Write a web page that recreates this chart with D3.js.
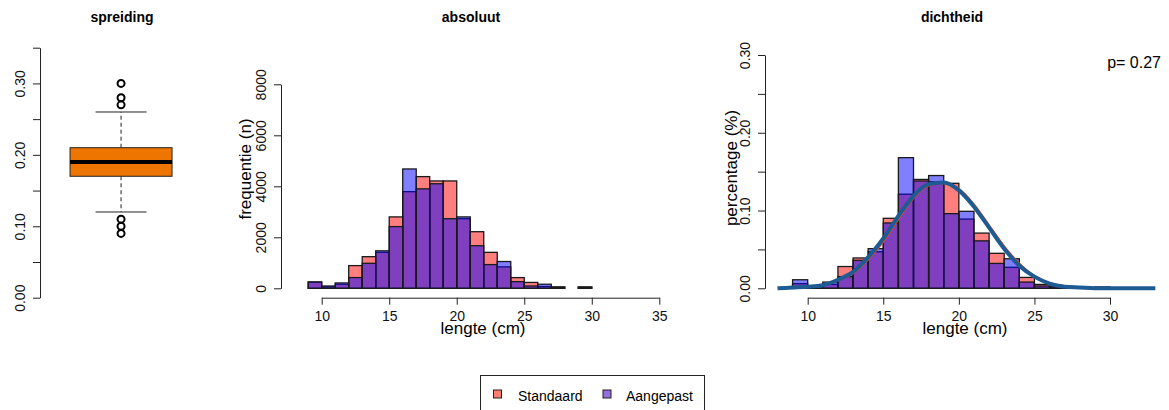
<!DOCTYPE html>
<html>
<head>
<meta charset="utf-8">
<script src="https://cdn.jsdelivr.net/npm/d3@7"></script>
<style>
  body { margin: 0; background: white; }
  svg { font-family: "Liberation Sans", Arial, sans-serif; }
</style>
</head>
<body>
<div id="chart"></div>
<script>
// ---- data ----
// boxplot (spreiding)
const boxStats = [0.12, 0.17, 0.19, 0.21, 0.26]; // lower whisker, q1, median, q3, upper whisker
const boxOutliers = [0.30, 0.28, 0.27, 0.11, 0.10, 0.09];
const boxTicks = [0, 0.05, 0.10, 0.15, 0.20, 0.25, 0.30, 0.35];
const boxTickLabels = ["0.00", "0.10", "0.20", "0.30"];

// histogram bins (left edges, width 1 cm)
const binStarts = [9, 10, 11, 12, 13, 14, 15, 16, 17, 18, 19, 20, 21, 22, 23, 24, 25, 26, 27, 28, 29];

// absoluut
const standaardN = [240, 60, 160, 890, 1240, 1410, 2800, 3790, 4380, 4210, 4210, 2730, 2220, 1410, 840, 420, 230, 70, 50, 0, 50];
const aangepastN = [250, 90, 210, 420, 980, 1470, 2420, 4680, 3900, 4100, 2730, 2800, 1670, 930, 1050, 260, 90, 160, 50, 0, 50];
const absXTicks = [10, 15, 20, 25, 30, 35];
const absYTicks = [0, 2000, 4000, 6000, 8000];

// dichtheid
const standaardD = [0.006, 0.002, 0.005, 0.028, 0.039, 0.047, 0.090, 0.121, 0.140, 0.137, 0.135, 0.089, 0.071, 0.045, 0.027, 0.014, 0.005, 0.002, 0.001, 0, 0.0015];
const aangepastD = [0.011, 0.003, 0.008, 0.015, 0.036, 0.051, 0.084, 0.168, 0.138, 0.145, 0.096, 0.099, 0.061, 0.032, 0.038, 0.008, 0.003, 0.002, 0.001, 0, 0.0015];
const denXTicks = [10, 15, 20, 25, 30];
const denYTicks = [0, 0.05, 0.10, 0.15, 0.20, 0.25, 0.30];
const denYLabels = ["0.00", "0.10", "0.20", "0.30"];

// density curves
const curveStdX = [9, 10, 11, 12, 13, 14, 15, 16, 17, 18, 19, 20, 21, 22, 23, 24, 25, 26, 27, 28, 28.7];
const curveStdY = [0.001, 0.002, 0.004, 0.010, 0.019, 0.037, 0.060, 0.089, 0.116, 0.132, 0.135, 0.128, 0.108, 0.081, 0.054, 0.032, 0.016, 0.007, 0.003, 0.001, 0];
const curveAanX = [8, 9, 10, 11, 12, 13, 14, 15, 16, 17, 18, 19, 20, 21, 22, 23, 24, 25, 26, 27, 28, 29, 30, 31, 32, 33];
const curveAanY = [0, 0.001, 0.002, 0.004, 0.011, 0.021, 0.040, 0.064, 0.093, 0.119, 0.134, 0.136, 0.126, 0.105, 0.078, 0.051, 0.029, 0.015, 0.006, 0.002, 0.001, 0, 0, 0, 0, 0];

const pText = "p= 0.27";
const legendNames = ["Standaard", "Aangepast"];

// ---- styles ----
const redFill = "rgba(255,0,0,0.5)";
const blueFill = "rgba(0,0,255,0.5)";
const legendColors = ["#FA8072", "#9370DB"];
const tickFont = "14px";
const labelFont = "17px";

const svg = d3.select("#chart")
  .append("svg")
  .attr("width", 1169)
  .attr("height", 410)
  .style("background-color", "white");

// helper: R-style left axis with rotated labels
function leftAxis(y, x0, ticks, labels) {
  const g = svg.append("g")
    .attr("transform", `translate(${x0},0)`)
    .call(d3.axisLeft(y).tickValues(ticks).tickSize(7).tickSizeOuter(0)
      .tickFormat(d => {
        const s = labels.find(l => Math.abs(+l - d) < 1e-9);
        return s === undefined ? "" : s;
      }));
  g.selectAll("path,line").attr("stroke", "#222");
  g.selectAll("text")
    .attr("x", 0).attr("dy", 0)
    .attr("transform", "translate(-15,0) rotate(-90)")
    .attr("text-anchor", "middle")
    .style("font-size", tickFont)
    .attr("fill", "#111");
  return g;
}

function bottomAxis(x, y0, ticks) {
  const g = svg.append("g")
    .attr("transform", `translate(0,${y0})`)
    .call(d3.axisBottom(x).tickValues(ticks).tickSize(7).tickSizeOuter(0).tickFormat(d3.format("d")));
  g.selectAll("path,line").attr("stroke", "#222");
  g.selectAll("text")
    .attr("y", 23).attr("dy", 0)
    .style("font-size", tickFont)
    .attr("fill", "#111");
  return g;
}

function title(txt, cx) {
  svg.append("text")
    .attr("x", cx).attr("y", 22)
    .attr("text-anchor", "middle")
    .attr("font-weight", "bold")
    .style("font-size", "14px")
    .text(txt);
}

// ---- panel 1: spreiding ----
const yBox = d3.scaleLinear().domain([0, 0.35]).range([297.7, 47.7]);
const xBox = d3.scaleLinear().domain([0.5, 1.5]).range([57.3, 184.8]);

leftAxis(yBox, 40, boxTicks, boxTickLabels);
title("spreiding", 122);

// whiskers (dashed)
svg.append("line")
  .attr("x1", xBox(1)).attr("x2", xBox(1))
  .attr("y1", yBox(boxStats[3])).attr("y2", yBox(boxStats[4]))
  .attr("stroke", "#222").attr("stroke-dasharray", "4,3");
svg.append("line")
  .attr("x1", xBox(1)).attr("x2", xBox(1))
  .attr("y1", yBox(boxStats[1])).attr("y2", yBox(boxStats[0]))
  .attr("stroke", "#222").attr("stroke-dasharray", "4,3");
// caps
[boxStats[0], boxStats[4]].forEach(v => {
  svg.append("line")
    .attr("x1", xBox(0.8)).attr("x2", xBox(1.2))
    .attr("y1", yBox(v)).attr("y2", yBox(v))
    .attr("stroke", "#222");
});
// box
svg.append("rect")
  .attr("x", xBox(0.6))
  .attr("y", yBox(boxStats[3]))
  .attr("width", xBox(1.4) - xBox(0.6))
  .attr("height", yBox(boxStats[1]) - yBox(boxStats[3]))
  .attr("fill", "#EE7600")
  .attr("stroke", "#222");
// median
svg.append("line")
  .attr("x1", xBox(0.6)).attr("x2", xBox(1.4))
  .attr("y1", yBox(boxStats[2])).attr("y2", yBox(boxStats[2]))
  .attr("stroke", "black").attr("stroke-width", 4);
// outliers
svg.selectAll(".outlier")
  .data(boxOutliers)
  .enter().append("circle")
  .attr("cx", xBox(1))
  .attr("cy", d => yBox(d))
  .attr("r", 3.5)
  .attr("fill", "none")
  .attr("stroke", "black")
  .attr("stroke-width", 2);

// ---- panel 2: absoluut ----
const xAbs = d3.scaleLinear().domain([10, 35]).range([321.7, 659.3]);
const yAbs = d3.scaleLinear().domain([0, 8000]).range([288.3, 84.3]);

leftAxis(yAbs, 281, absYTicks, absYTicks.map(String));
bottomAxis(xAbs, 297.7, absXTicks);
title("absoluut", 471);

function bars(x, y, vals, fill) {
  svg.append("g")
    .selectAll("rect")
    .data(binStarts)
    .enter().append("rect")
    .attr("x", d => x(d))
    .attr("width", d => x(d + 1) - x(d))
    .attr("y", (d, i) => y(vals[i]))
    .attr("height", (d, i) => y(0) - y(vals[i]))
    .attr("fill", fill)
    .attr("stroke", "#1a1a1a")
    .attr("stroke-width", 1.3);
}

bars(xAbs, yAbs, standaardN, redFill);
bars(xAbs, yAbs, aangepastN, blueFill);

svg.append("text")
  .attr("transform", "translate(251,169) rotate(-90)")
  .attr("text-anchor", "middle")
  .style("font-size", labelFont)
  .text("frequentie (n)");
svg.append("text")
  .attr("x", 483).attr("y", 334)
  .attr("text-anchor", "middle")
  .style("font-size", labelFont)
  .text("lengte (cm)");

// ---- panel 3: dichtheid ----
const xDen = d3.scaleLinear().domain([10, 30]).range([807.7, 1110]);
const yDen = d3.scaleLinear().domain([0, 0.30]).range([288.3, 55]);

leftAxis(yDen, 765, denYTicks, denYLabels);
bottomAxis(xDen, 297.7, denXTicks);
title("dichtheid", 952);

bars(xDen, yDen, standaardD, redFill);
bars(xDen, yDen, aangepastD, blueFill);

const line = d3.line()
  .x(d => xDen(d[0]))
  .y(d => yDen(d[1]))
  .curve(d3.curveMonotoneX);

svg.append("path")
  .datum(curveStdX.map((v, i) => [v, curveStdY[i]]))
  .attr("d", line)
  .attr("fill", "none")
  .attr("stroke", "#E04E1B")
  .attr("stroke-width", 2);

svg.append("path")
  .datum(curveAanX.map((v, i) => [v, curveAanY[i]]))
  .attr("d", line)
  .attr("fill", "none")
  .attr("stroke", "#1D5B92")
  .attr("stroke-width", 4);

svg.append("text")
  .attr("x", 1161).attr("y", 68)
  .attr("text-anchor", "end")
  .style("font-size", "16px")
  .text(pText);

svg.append("text")
  .attr("transform", "translate(737,168) rotate(-90)")
  .attr("text-anchor", "middle")
  .style("font-size", labelFont)
  .text("percentage (%)");
svg.append("text")
  .attr("x", 965).attr("y", 334)
  .attr("text-anchor", "middle")
  .style("font-size", labelFont)
  .text("lengte (cm)");

// ---- legend ----
svg.append("rect")
  .attr("x", 480.5).attr("y", 375.5)
  .attr("width", 224).attr("height", 50)
  .attr("fill", "white")
  .attr("stroke", "#222");

const legendX = [493.5, 603];
const legendTextX = [518, 626];
legendNames.forEach((name, i) => {
  svg.append("rect")
    .attr("x", legendX[i]).attr("y", 390)
    .attr("width", 8).attr("height", 8)
    .attr("fill", legendColors[i])
    .attr("stroke", "#222");
  svg.append("text")
    .attr("x", legendTextX[i]).attr("y", 401)
    .style("font-size", "14px")
    .text(name);
});
</script>
</body>
</html>
